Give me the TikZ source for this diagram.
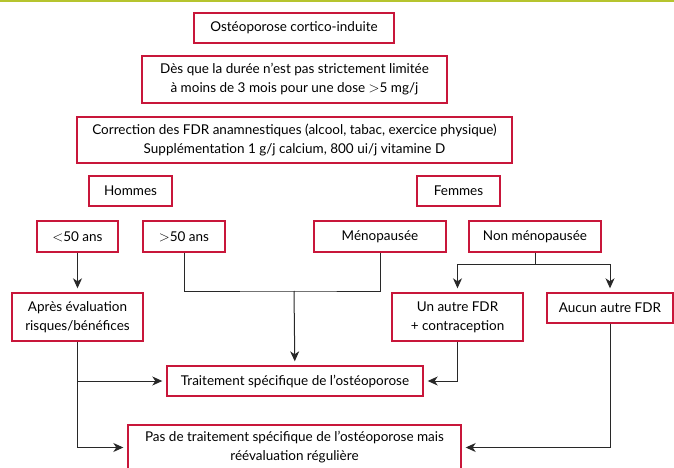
\documentclass[tikz,border=0pt]{standalone}
\usepackage{fontspec}
\setmainfont{Lato}
\usepackage{xcolor}
\definecolor{box-red}{RGB}{200,22,58}
\definecolor{bar-green}{RGB}{182,196,46}
\definecolor{line-grey}{RGB}{40,40,40}
\usepackage{tikz}
\usetikzlibrary{shapes,arrows,arrows.meta,positioning}

\begin{document}
\begin{tikzpicture}[x=1pt,y=-1pt,
    font=\fontsize{13.5}{19}\selectfont,
    box/.style={draw=box-red,line width=1.4pt,inner sep=0pt,align=center,minimum height=30pt},
    link/.style={draw=line-grey,line width=1pt},
    arr/.style={link,-{Stealth[length=10pt,width=9pt,inset=3pt]},shorten >=4pt}]
    \useasboundingbox (0,0) rectangle (674,468);
    \fill[bar-green] (0,0) rectangle (674,2.5);
    % top of the chart
    \node[box,minimum width=200pt] (osteo) at (294,28) {Ostéoporose cortico-induite};
    \node[box,minimum width=305pt,minimum height=47pt] (des) at (294.5,79.5) {Dès que la durée n’est pas strictement limitée\\à moins de 3 mois pour une dose $>$5 mg/j};
    \node[box,minimum width=435pt,minimum height=46pt] (corr) at (294.5,140) {Correction des FDR anamnestiques (alcool, tabac, exercice physique)\\Supplémentation 1 g/j calcium, 800 ui/j vitamine D};
    % groups
    \node[box,minimum width=83pt] (hommes) at (130.5,191) {Hommes};
    \node[box,minimum width=83pt] (femmes) at (458.5,191) {Femmes};
    \node[box,minimum width=81pt,minimum height=31pt] (moins50) at (77.5,236.5) {$<$50 ans};
    \node[box,minimum width=82pt,minimum height=31pt] (plus50) at (184,236.5) {$>$50 ans};
    \node[box,minimum width=132pt,minimum height=31pt] (meno) at (380,236.5) {Ménopausée};
    \node[box,minimum width=132pt,minimum height=31pt] (nonmeno) at (535,236.5) {Non ménopausée};
    \node[box,minimum width=131pt,minimum height=48pt] (apres) at (77.5,317) {Après évaluation\\risques/bénéfices};
    \node[box,minimum width=131pt,minimum height=48pt] (autre) at (457.5,317) {Un autre FDR\\+ contraception};
    \node[box,minimum width=126pt] (aucun) at (610,308) {Aucun autre FDR};
    % outcomes
    \node[box,minimum width=256pt] (trait) at (295,381) {Traitement spécifique de l’ostéoporose};
    \node[box,minimum width=333pt,minimum height=45pt] (pas) at (294.5,447.5) {Pas de traitement spécifique de l’ostéoporose mais\\réévaluation régulière};
    \coordinate (join) at (294,291);
    \coordinate (split) at (535,264);
    \draw[arr] (moins50) -- (apres);
    \draw[link] (plus50) |- (join) -| (meno);
    \draw[arr] (join) -- (trait);
    \draw[link] (nonmeno) -- (split);
    \draw[arr] (split) -| (autre);
    \draw[arr] (split) -| (aucun);
    \draw[arr] (apres) |- (pas);
    \draw[arr] (apres.south |- trait) -- (trait);
    \draw[arr] (autre) |- (trait);
    \draw[arr] (aucun) |- (pas);
\end{tikzpicture}
\end{document}
